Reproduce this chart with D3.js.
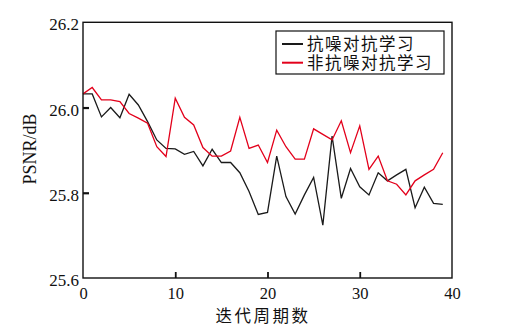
<!DOCTYPE html>
<html>
<head>
<meta charset="utf-8">
<script src="https://cdn.jsdelivr.net/npm/d3@7"></script>
<style>
  html, body { margin: 0; padding: 0; background: #fff; }
  svg { display: block; }
</style>
</head>
<body>
<svg id="chart" width="509" height="336"></svg>
<script>
const epochs = d3.range(0, 40);
const seriesNames = ["抗噪对抗学习", "非抗噪对抗学习"];
const seriesColors = ["#1a1a1a", "#e3001b"];
const antiNoise = [26.032, 26.032, 25.978, 26.000, 25.976, 26.031, 26.006, 25.967, 25.924, 25.904,
                   25.903, 25.890, 25.897, 25.863, 25.902, 25.871, 25.871, 25.847, 25.803, 25.749,
                   25.754, 25.886, 25.791, 25.750, 25.795, 25.836, 25.724, 25.933, 25.787, 25.857,
                   25.814, 25.795, 25.847, 25.828, 25.842, 25.855, 25.765, 25.813, 25.775, 25.773];
const nonAntiNoise = [26.032, 26.047, 26.018, 26.018, 26.014, 25.986, 25.975, 25.963, 25.908, 25.885,
                      26.022, 25.977, 25.959, 25.906, 25.886, 25.886, 25.898, 25.977, 25.904, 25.912,
                      25.871, 25.947, 25.908, 25.879, 25.879, 25.950, 25.937, 25.924, 25.969, 25.894,
                      25.957, 25.855, 25.886, 25.828, 25.820, 25.795, 25.828, 25.842, 25.855, 25.894];
const xTicks = [0, 10, 20, 30, 40];
const yTicks = [25.6, 25.8, 26.0, 26.2];
const xTitle = "迭代周期数";
const yTitle = "PSNR/dB";

const svg = d3.select("#chart");
const L = 83, R = 452, T = 22.3, B = 278;
const x = d3.scaleLinear().domain([0, 40]).range([L, R]);
const y = d3.scaleLinear().domain([25.6, 26.2]).range([B, T]);

const numFont = "'Liberation Serif', 'DejaVu Serif', serif";
const cjkFont = "'Noto Sans CJK SC', sans-serif";

// lines
const series = [antiNoise, nonAntiNoise];
const line = d3.line().x((d, i) => x(epochs[i])).y(d => y(d));
series.forEach((s, k) => {
  svg.append("path").datum(s)
    .attr("d", line)
    .attr("fill", "none")
    .attr("stroke", seriesColors[k])
    .attr("stroke-width", 1.3)
    .attr("stroke-linejoin", "miter");
});

// frame
svg.append("rect").attr("x", L).attr("y", T).attr("width", R - L).attr("height", B - T)
  .attr("fill", "none").attr("stroke", "#111").attr("stroke-width", 1.4);

// axes
const xAxis = d3.axisBottom(x).tickValues(xTicks).tickSize(-6).tickPadding(9).tickFormat(d3.format("d"));
const gx = svg.append("g").attr("transform", `translate(0,${B})`).call(xAxis);
gx.select(".domain").remove();
gx.selectAll(".tick line").attr("stroke", "#111").attr("stroke-width", 1.8)
  .filter(d => d === 0 || d === 40).remove();
gx.selectAll(".tick text").attr("font-family", numFont).attr("font-size", 16.5).attr("fill", "#111");

const yAxis = d3.axisLeft(y).tickValues(yTicks).tickSize(-6).tickPadding(4).tickFormat(d3.format(".1f"));
const gy = svg.append("g").attr("transform", `translate(${L},0)`).call(yAxis);
gy.select(".domain").remove();
gy.selectAll(".tick line").attr("stroke", "#111").attr("stroke-width", 2.2)
  .filter(d => d === 25.6 || d === 26.2).remove();
gy.selectAll(".tick text").attr("font-family", numFont).attr("font-size", 17).attr("fill", "#111")
  .attr("dy", "0.45em");

// titles
svg.append("text").attr("x", 263).attr("y", 322)
  .attr("text-anchor", "middle").attr("font-family", cjkFont).attr("font-size", 16.5)
  .attr("letter-spacing", 2.5).attr("fill", "#111").text(xTitle);
svg.append("text").attr("transform", "translate(36,149) rotate(-90)")
  .attr("text-anchor", "middle").attr("font-family", numFont).attr("font-size", 18)
  .attr("fill", "#111").text(yTitle);

// legend
const lg = svg.append("g");
lg.append("rect").attr("x", 276).attr("y", 31).attr("width", 168).attr("height", 43)
  .attr("fill", "#fff").attr("stroke", "#111").attr("stroke-width", 1.2);
seriesNames.forEach((name, k) => {
  const yy = 44 + k * 18.7;
  lg.append("line").attr("x1", 282).attr("x2", 303).attr("y1", yy).attr("y2", yy)
    .attr("stroke", seriesColors[k]).attr("stroke-width", 2);
  lg.append("text").attr("x", 307).attr("y", yy).attr("dy", "0.36em")
    .attr("font-family", cjkFont).attr("font-size", 16.5).attr("letter-spacing", 1.5)
    .attr("fill", "#111").text(name);
});
</script>
</body>
</html>
